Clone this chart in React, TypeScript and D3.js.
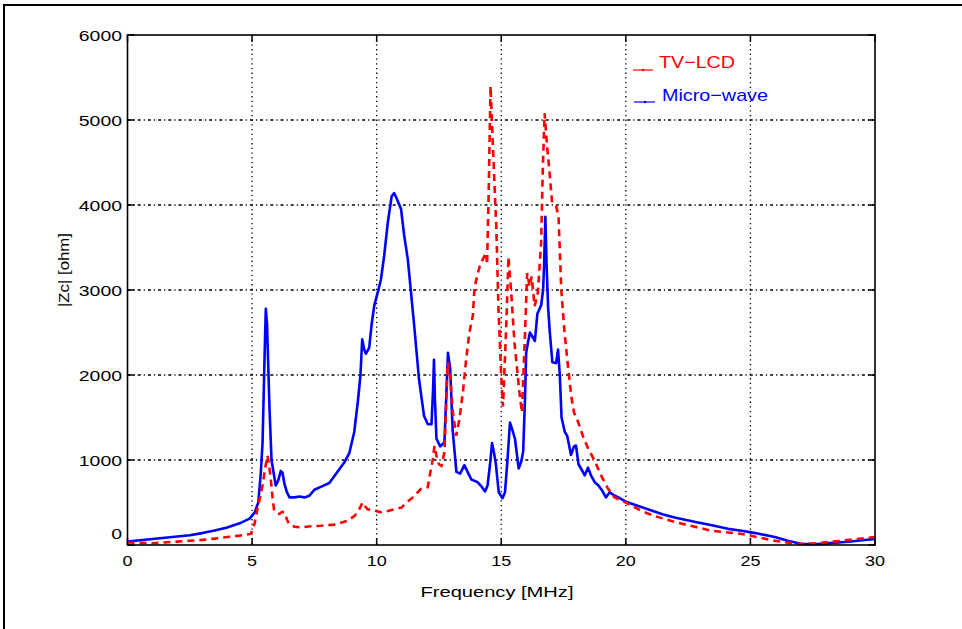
import React from "react";
import * as d3 from "d3";

// Frequency [MHz], |Zc| [ohm]
const microFreq = [0,0.5,1,1.5,2,2.5,3,3.5,4,4.5,4.9,5.1,5.25,5.35,5.42,5.5,5.55,5.6,5.65,5.7,5.78,5.88,5.95,6.05,6.15,6.22,6.3,6.4,6.5,6.7,6.9,7.1,7.3,7.5,7.8,8.1,8.4,8.7,8.9,9.1,9.25,9.35,9.42,9.5,9.57,9.7,9.8,9.9,10.05,10.17,10.3,10.45,10.6,10.7,10.8,10.98,11.1,11.25,11.5,11.7,11.9,12.05,12.2,12.26,12.3,12.34,12.4,12.55,12.72,12.8,12.86,12.95,13.05,13.2,13.35,13.52,13.65,13.8,14.05,14.2,14.35,14.45,14.55,14.63,14.7,14.78,14.9,15.05,15.15,15.25,15.35,15.45,15.55,15.7,15.8,15.88,15.95,16.0,16.07,16.15,16.25,16.35,16.45,16.6,16.68,16.72,16.77,16.82,16.88,16.95,17.05,17.2,17.28,17.35,17.42,17.55,17.65,17.8,17.92,18.0,18.1,18.2,18.35,18.48,18.6,18.75,18.9,19.05,19.2,19.35,19.5,19.7,20.0,20.5,21,21.5,22,22.8,23.5,24.1,24.65,25.2,25.98,26.5,27.06,27.7,28.3,28.94,29.5,30];
const microZ = [40,55,70,85,100,115,140,170,205,255,310,380,500,850,1200,2200,2780,2600,2100,1600,1000,820,700,760,870,850,720,620,560,560,570,560,580,650,690,730,850,970,1080,1330,1700,2000,2420,2300,2250,2320,2600,2810,2980,3120,3400,3800,4100,4140,4080,3950,3650,3360,2600,1950,1520,1420,1420,1800,2180,1700,1250,1160,1210,1800,2260,2080,1350,860,840,940,860,770,740,690,630,700,950,1200,1100,960,620,550,620,1000,1440,1350,1250,900,980,1100,1700,2260,2380,2500,2450,2400,2720,2820,3000,3300,3860,3300,2800,2500,2150,2140,2300,2000,1500,1330,1280,1060,1160,1170,950,900,820,910,820,740,700,640,560,620,590,560,510,460,410,360,320,270,230,190,168,140,94,50,12,10,25,39,55,70];

const tvFreq = [0,0.5,1,1.5,2,2.5,3,3.5,4,4.5,4.95,5.1,5.21,5.32,5.42,5.52,5.62,5.7,5.75,5.82,5.88,6.0,6.1,6.2,6.29,6.4,6.49,6.7,6.96,7.36,7.76,8.3,8.83,9.1,9.24,9.35,9.44,9.55,9.64,9.97,10.17,10.45,10.7,11.0,11.2,11.45,11.78,12.05,12.18,12.25,12.32,12.4,12.5,12.6,12.72,12.79,12.85,12.96,13.06,13.19,13.32,13.46,13.59,13.72,13.86,13.93,14.13,14.26,14.39,14.43,14.49,14.57,14.66,14.8,14.89,15.0,15.07,15.2,15.29,15.4,15.53,15.73,15.83,15.94,16.04,16.14,16.22,16.34,16.47,16.6,16.67,16.74,16.84,16.94,17.04,17.21,17.3,17.41,17.54,17.68,17.81,17.92,18.08,18.28,18.48,18.75,19.02,19.29,19.55,19.96,20.63,21.17,21.97,23.44,24.65,25.98,26.93,27.6,28.67,30];
const tvZ = [30,25,20,30,40,50,60,75,94,110,130,250,420,560,700,900,1050,900,775,560,420,370,365,390,385,300,245,215,207,220,227,240,285,340,385,450,500,450,420,400,385,400,420,440,500,560,660,680,900,1000,1165,1050,950,930,1090,1675,2150,1950,1560,1285,1480,1795,2180,2500,2700,3040,3275,3360,3440,3300,4060,5400,4730,3750,2770,1985,1630,2570,3390,2970,2380,1795,1560,2380,3200,3040,3160,2810,2970,3555,4450,5080,4690,4380,4030,3980,3860,3000,2500,2100,1750,1560,1450,1280,1140,990,810,660,560,505,400,340,270,168,130,50,12,20,50,94];

const xTicks = [0, 5, 10, 15, 20, 25, 30];
const yTicks = [0, 1000, 2000, 3000, 4000, 5000, 6000];
const legendLabels = ["TV\u2212LCD", "Micro\u2212wave"];
const xLabel = "Frequency [MHz]";
const yLabel = "|Zc| [ohm]";

export default function App() {
  const W = 962, H = 629;
  const L = 127.5, R = 875, T = 35, B = 545;
  const x = d3.scaleLinear().domain([0, 30]).range([L, R]);
  const y = d3.scaleLinear().domain([0, 6000]).range([B, T]);
  const line = d3.line<[number, number]>().x(d => x(d[0])).y(d => y(d[1]));
  const micro: [number, number][] = microFreq.map((f, i) => [f, microZ[i]]);
  const tv: [number, number][] = tvFreq.map((f, i) => [f, tvZ[i]]);
  const font = "'Liberation Sans', Arial, Helvetica, sans-serif";
  const digitW = 10.8;
  return (
    <svg width={W} height={H} style={{ position: "absolute", left: 0, top: 0, background: "#fff" }} fontFamily={font}>
      <rect x={0} y={0} width={W} height={H} fill="#fff" />
      <rect x={4} y={5} width={990} height={660} fill="none" stroke="#000" strokeWidth={2} />
      {/* grid */}
      {yTicks.slice(1, -1).map(t => (
        <line key={"gy" + t} x1={L} x2={R} y1={y(t)} y2={y(t)} stroke="#000" strokeWidth={1.3} strokeDasharray="3,3,1.2,3" />
      ))}
      {xTicks.slice(1, -1).map(t => (
        <line key={"gx" + t} x1={x(t)} x2={x(t)} y1={T} y2={B} stroke="#000" strokeWidth={1.3} strokeDasharray="1.3,3.4" />
      ))}
      {/* ticks */}
      {xTicks.map(t => (
        <g key={"tx" + t}>
          <line x1={x(t)} x2={x(t)} y1={B} y2={B - 7} stroke="#000" strokeWidth={1.5} />
          <line x1={x(t)} x2={x(t)} y1={T} y2={T + 7} stroke="#000" strokeWidth={1.5} />
          <text x={x(t)} y={566} textAnchor="middle" fontSize={14} fill="#000"
            textLength={String(t).length * 10} lengthAdjust="spacingAndGlyphs">{t}</text>
        </g>
      ))}
      {yTicks.map(t => (
        <g key={"ty" + t}>
          <line x1={L} x2={L + 7} y1={y(t)} y2={y(t)} stroke="#000" strokeWidth={1.5} />
          <line x1={R} x2={R - 7} y1={y(t)} y2={y(t)} stroke="#000" strokeWidth={1.5} />
          <text x={122} y={(t === 0 ? y(t) - 12 : y(t)) + 5.5} textAnchor="end" fontSize={15} fill="#000"
            textLength={String(t).length * digitW} lengthAdjust="spacingAndGlyphs">{t}</text>
        </g>
      ))}
      {/* data */}
      <path d={line(micro) || ""} fill="none" stroke="#0000ff" strokeWidth={2.6} strokeLinejoin="round" />
      <path d={line(tv) || ""} fill="none" stroke="#ff0000" strokeWidth={2.6} strokeDasharray="7,5" />
      {/* frame */}
      <rect x={L} y={T} width={R - L} height={B - T} fill="none" stroke="#000" strokeWidth={1.6} />
      {/* labels */}
      <text x={497} y={597} textAnchor="middle" fontSize={15} fill="#000"
        textLength={153} lengthAdjust="spacingAndGlyphs">{xLabel}</text>
      <text transform="translate(69,270) rotate(-90)" textAnchor="middle" fontSize={14} fill="#000"
        textLength={74} lengthAdjust="spacingAndGlyphs">{yLabel}</text>
      {/* legend */}
      <line x1={633} x2={653} y1={70} y2={70} stroke="#ff0000" strokeWidth={1.2} />
      <circle cx={643} cy={70} r={1.2} fill="#ff0000" />
      <text x={659} y={68} fontSize={17} fill="#ff0000" textLength={76} lengthAdjust="spacingAndGlyphs">{legendLabels[0]}</text>
      <line x1={634} x2={655} y1={102} y2={102} stroke="#0000ff" strokeWidth={1.2} />
      <circle cx={645} cy={102} r={1.2} fill="#0000ff" />
      <text x={662} y={101} fontSize={17} fill="#0000ff" textLength={106} lengthAdjust="spacingAndGlyphs">{legendLabels[1]}</text>
    </svg>
  );
}
